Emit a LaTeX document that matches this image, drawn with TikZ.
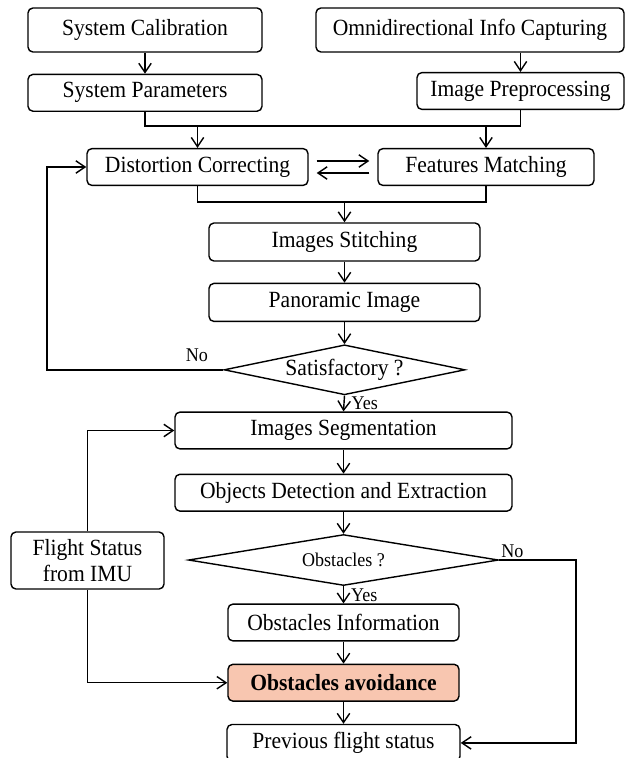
\documentclass[tikz,border=0pt]{standalone}
\usepackage{fontspec}
\setmainfont{Liberation Serif}[FakeStretch=0.93]
\usetikzlibrary{
  shapes.geometric,
  arrows.meta,
  positioning
}
\definecolor{avoidfill}{RGB}{248,198,176}

\begin{document}
\begin{tikzpicture}[
  box/.style={draw=black, fill=white, rounded corners=3.5pt,
              minimum height=0.92cm, inner sep=2pt,
              font=\fontsize{16.5}{19}\selectfont, align=center, line width=1pt},
  dec/.style={draw=black, fill=white, diamond, aspect=4.8, inner sep=0pt,
              font=\fontsize{16.5}{19}\selectfont, line width=1pt},
  lbl/.style={font=\fontsize{13.8}{16}\selectfont, inner sep=2pt},
  flow/.style={->, line width=1pt, >={Straight Barb[length=2.3mm,width=3.1mm]}},
  link/.style={line width=1pt}
]
\useasboundingbox (0,0) rectangle (15.625,-18.95);

%% ---------- INPUT ROW ----------
\node[box, minimum width=5.85cm, minimum height=1.1cm] (cal) at (3.625,-0.75) {System Calibration};
\node[box, minimum width=7.7cm,  minimum height=1.1cm] (cap) at (11.75,-0.75) {Omnidirectional Info Capturing};
\node[box, minimum width=5.85cm, below=0.525cm of cal] (par) {System Parameters};
\node[box, minimum width=5.175cm] (pre) at (13.0125,-2.275) {Image Preprocessing};

%% ---------- CORRECTION / MATCHING ----------
\node[box, minimum width=5.525cm] (dis) at (4.9375,-4.175) {Distortion Correcting};
\node[box, minimum width=5.4cm]   (fea) at (12.15,-4.175)  {Features Matching};

%% ---------- STITCHING ----------
\node[box, minimum width=6.775cm, minimum height=0.95cm] (sti) at (8.6125,-6.05) {Images Stitching};
\node[box, minimum width=6.775cm, minimum height=0.95cm, below=0.525cm of sti] (pan) {Panoramic Image};
\node[dec, minimum width=6.025cm, minimum height=1.25cm, below=0.55cm of pan] (sat) {Satisfactory ?};

%% ---------- DETECTION ----------
\node[box, minimum width=8.425cm] (seg) at (8.5875,-10.7625) {Images Segmentation};
\node[box, minimum width=8.425cm, below=0.6cm of seg] (det) {Objects Detection and Extraction};
\node[dec, font=\fontsize{13.8}{16}\selectfont, aspect=6.1,
      minimum width=7.75cm, minimum height=1.275cm, below=0.55cm of det] (obs) {Obstacles ?};
\node[box, minimum width=3.825cm, minimum height=1.425cm] (imu) at (2.1875,-14.0125) {Flight Status\\from IMU};
\node[box, minimum width=5.775cm] (inf) at (8.5875,-15.5625) {Obstacles Information};
\node[box, minimum width=5.775cm, fill=avoidfill, font=\fontsize{16.5}{19}\selectfont\bfseries,
      below=0.55cm of inf] (avo) {Obstacles avoidance};
\node[box, minimum width=5.825cm, below=0.55cm of avo] (prev) {Previous flight status};

%% ---------- JUNCTIONS ----------
\coordinate (jtop) at (0,-3.15);
\coordinate (jmid) at (0,-5.05);
\coordinate (fbl)  at (1.175,0);
\coordinate (fbr)  at (14.4,0);

%% ---------- UPPER FLOW ----------
\draw[flow] (cal)--(par);
\draw[flow] (cap.south -| pre.north)--(pre.north);
\draw[link] (par.south) |- (jtop -| pre.south) -- (pre.south);
\draw[flow] (jtop -| dis.north)--(dis.north);
\draw[flow] (jtop -| fea.north)--(fea.north);
\draw[flow, shorten <=0.2cm, shorten >=0.2cm] ([yshift=0.15cm]dis.east)--([yshift=0.15cm]fea.west);
\draw[flow, shorten <=0.2cm, shorten >=0.2cm] ([yshift=-0.15cm]fea.west)--([yshift=-0.15cm]dis.east);
\draw[link] (dis.south) |- (jmid -| fea.south) -- (fea.south);
\draw[flow] (jmid -| sti.north)--(sti.north);
\draw[flow] (sti)--(pan);
\draw[flow] (pan)--(sat);

%% ---------- FEEDBACK (NOT SATISFACTORY) ----------
\draw[flow] (sat.west) -- node[lbl, above=3pt, pos=0.15]{No} (sat.west -| fbl) |- (dis.west);
\draw[flow] (sat.south) -- node[lbl, right, xshift=3pt]{Yes} (seg.north);

%% ---------- LOWER FLOW ----------
\draw[flow] (seg)--(det);
\draw[flow] (det)--(obs);
\draw[flow] (obs.south) -- node[lbl, right, xshift=3pt]{Yes} (inf.north);
\draw[flow] (inf)--(avo);
\draw[flow] (avo)--(prev);
\draw[flow] (obs.east) -- node[lbl, above right, pos=0, inner sep=1pt]{No} (obs.east -| fbr) |- (prev.east);

%% ---------- IMU INPUTS ----------
\draw[flow] (imu.north) |- (seg.west);
\draw[flow] (imu.south) |- (avo.west);

\end{tikzpicture}
\end{document}
